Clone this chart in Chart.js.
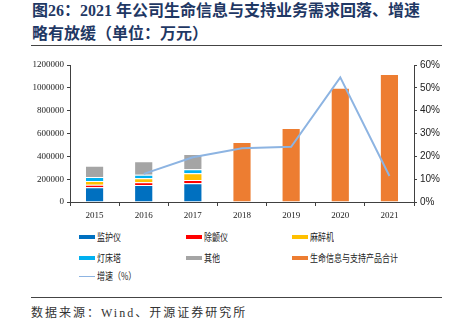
<!DOCTYPE html>
<html>
<head>
<meta charset="utf-8">
<script src="https://cdn.jsdelivr.net/npm/chart.js@4.4.0/dist/chart.umd.min.js"></script>
<style>
  html, body { margin: 0; padding: 0; background: #fff; }
  body { width: 450px; height: 328px; position: relative; overflow: hidden; }
  .title {
    position: absolute; left: 32px; top: 0; width: 415px;
    font-family: "Liberation Serif", "Noto Sans CJK SC", serif;
    font-weight: bold; font-size: 16px; line-height: 22.5px; color: #1f3864;
  }
  .rule { position: absolute; left: 31px; width: 411px; height: 1.5px; background: #444; }
  #chartBox { position: absolute; left: 0; top: 50px; width: 450px; height: 175px; }
  .legend { position: absolute; left: 0; top: 0; font-family: "Noto Sans CJK SC", sans-serif; font-size: 10px; color: #222; }
  .item { position: absolute; height: 12px; white-space: nowrap; }
  .sw { position: absolute; left: 0; top: 4px; width: 16px; height: 4px; }
  .sw.line { top: 5.5px; height: 1.5px; }
  .lbl { position: absolute; left: 18px; top: -2px; display: inline-block; transform: scaleX(0.8); transform-origin: left center; }
  .source {
    position: absolute; left: 31px; top: 303px;
    font-family: "Liberation Serif", "Noto Sans CJK SC", serif;
    font-size: 12px; letter-spacing: 2px; color: #333;
  }
</style>
</head>
<body>
<div class="title">图26：2021 年公司生命信息与支持业务需求回落、增速<br>略有放缓（单位：万元）</div>
<div class="rule" style="top:44.5px"></div>
<div id="chartBox"><canvas id="chart" width="450" height="175"></canvas></div>
<div class="legend" id="legend"></div>
<div class="rule" style="top:296.5px"></div>
<div class="source">数据来源：Wind、开源证券研究所</div>
<script>
// data (万元)
const years = ['2015', '2016', '2017', '2018', '2019', '2020', '2021'];
const monitor   = [130000, 149000, 164000, null, null, null, null];
const defib     = [22000, 23000, 29000, null, null, null, null];
const anesth    = [33000, 35000, 58000, null, null, null, null];
const surgLight = [35000, 32000, 35000, null, null, null, null];
const others    = [98000, 117000, 134000, null, null, null, null];
const lifeTotal = [null, null, null, 525000, 648000, 1001000, 1121000];
const growth    = [null, 12.3, 19.6, 23.5, 24.2, 54.6, 11.4];
const leftTicks = [0, 200000, 400000, 600000, 800000, 1000000, 1200000];

const barSeries = [
  { label: '监护仪', data: monitor, color: '#0070c0' },
  { label: '除颤仪', data: defib, color: '#ff0000' },
  { label: '麻醉机', data: anesth, color: '#ffc000' },
  { label: '灯床塔', data: surgLight, color: '#00b0f0' },
  { label: '其他', data: others, color: '#a5a5a5' },
  { label: '生命信息与支持产品合计', data: lifeTotal, color: '#ed7d31' }
];
const lineColor = '#8db4e2';

const datasets = barSeries.map(s => ({
  type: 'bar',
  label: s.label,
  data: s.data,
  backgroundColor: s.color,
  borderColor: 'rgba(255,255,255,0.55)',
  borderWidth: 1,
  stack: 's',
  yAxisID: 'y',
  barPercentage: 0.39,
  categoryPercentage: 1,
  order: 2
}));
datasets.push({
  type: 'line',
  label: '增速（%）',
  data: growth,
  borderColor: lineColor,
  borderWidth: 2,
  pointRadius: 0,
  tension: 0,
  fill: false,
  yAxisID: 'y1',
  order: 1
});

const axisColor = '#404040';
const serif = { family: '"Liberation Serif", serif', size: 9 };

new Chart(document.getElementById('chart').getContext('2d'), {
  data: { labels: years, datasets: datasets },
  options: {
    responsive: false,
    animation: false,
    layout: { padding: { top: 15, left: 0, right: 0, bottom: 0 } },
    plugins: { legend: { display: false }, tooltip: { enabled: false } },
    scales: {
      x: {
        stacked: true,
        offset: true,
        grid: { offset: true, drawOnChartArea: false, drawTicks: true, tickLength: 4, color: axisColor },
        border: { color: axisColor, width: 1 },
        ticks: { color: '#222', font: serif, padding: 4, maxRotation: 0 },
        afterFit: s => { s.height = 23; }
      },
      y: {
        stacked: true,
        position: 'left',
        min: 0, max: 1200000,
        afterBuildTicks: s => { s.ticks = leftTicks.map(v => ({ value: v })); },
        grid: { drawOnChartArea: false, drawTicks: true, tickLength: 3, color: axisColor },
        border: { color: axisColor, width: 1 },
        ticks: { color: '#222', font: serif, padding: 3, callback: v => String(v) },
        afterFit: s => { s.width = 70; }
      },
      y1: {
        position: 'right',
        stacked: false,
        min: 0, max: 60,
        grid: { drawOnChartArea: false, drawTicks: true, tickLength: 3, color: axisColor },
        border: { color: axisColor, width: 1 },
        ticks: {
          stepSize: 10,
          color: '#222',
          font: { family: '"Liberation Sans Narrow", "Liberation Sans", sans-serif', size: 10 },
          padding: 3,
          callback: v => v + '%'
        },
        afterFit: s => { s.width = 36; }
      }
    }
  }
});

// legend laid out in three columns like the reference
const legendItems = barSeries.map(s => ({ label: s.label, color: s.color, line: false }));
legendItems.push({ label: '增速（%）', color: lineColor, line: true });
const colX = [79, 186, 292];
const rowY = [231, 252, 270];
const legend = document.getElementById('legend');
legendItems.forEach((it, i) => {
  const el = document.createElement('div');
  el.className = 'item';
  el.style.left = colX[i % 3] + 'px';
  el.style.top = rowY[Math.floor(i / 3)] + 'px';
  el.innerHTML = '<span class="sw' + (it.line ? ' line' : '') + '" style="background:' + it.color + '"></span>' +
    '<span class="lbl">' + it.label + '</span>';
  legend.appendChild(el);
});
</script>
</body>
</html>
